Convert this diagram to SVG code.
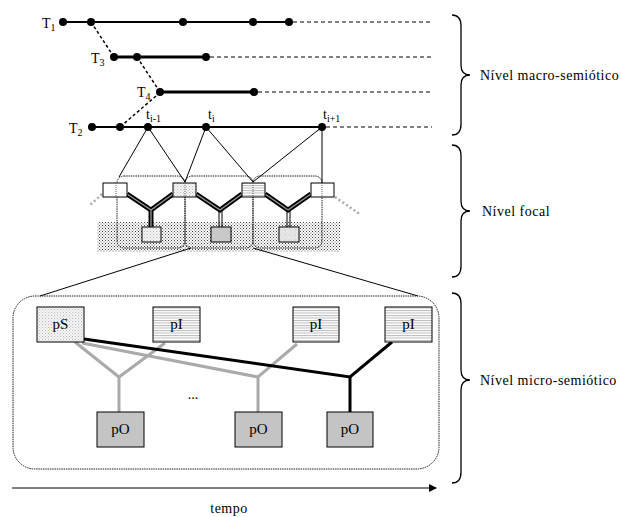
<svg xmlns="http://www.w3.org/2000/svg" width="621" height="517" viewBox="0 0 621 517">
  <defs>
    <style>
      .txt { font-family: "Liberation Serif", "Times New Roman", serif; fill: #000; }
      .lbl { font-size: 14px; letter-spacing: 0.5px; }
      .tl { font-size: 14px; }
      .nl { font-size: 15px; }
      .sub { font-size: 10px; }
      .solid { stroke: #000; stroke-width: 2; fill: none; }
      .thick { stroke: #000; stroke-width: 3; fill: none; }
      .dash { stroke: #000; stroke-width: 1; stroke-dasharray: 4 3; fill: none; }
      .ddash { stroke: #000; stroke-width: 1.5; stroke-dasharray: 3 2.5; fill: none; }
      .dot { fill: #000; }
      .thin { stroke: #000; stroke-width: 1; fill: none; }
      .box { stroke: #000; stroke-width: 1; }
      .frame { fill: none; stroke: #222; stroke-width: 1; stroke-dasharray: 1.5 0.8; }
      .pipeo { stroke: #000; stroke-width: 5; fill: none; stroke-linejoin: miter; }
      .pipei { stroke: #999; stroke-width: 1.3; fill: none; stroke-linejoin: miter; }
      .grayc { stroke: #aaa; stroke-width: 3; fill: none; }
      .blackc { stroke: #000; stroke-width: 3; fill: none; }
      .fade { stroke: #aaa; stroke-width: 2.5; stroke-dasharray: 2 2.5; fill: none; }
      .brace { stroke: #000; stroke-width: 1.3; fill: none; }
    </style>
    <pattern id="speck" width="3" height="3" patternUnits="userSpaceOnUse">
      <rect width="3" height="3" fill="#fff"/>
      <rect x="0" y="0" width="1" height="1" fill="#222"/>
      <rect x="1.5" y="1.5" width="1" height="1" fill="#444"/>
    </pattern>
    <pattern id="lightspeck" width="3" height="3" patternUnits="userSpaceOnUse">
      <rect width="3" height="3" fill="#f4f4f4"/>
      <rect x="0" y="0" width="1" height="1" fill="#bbb"/>
      <rect x="1.5" y="1.5" width="1" height="1" fill="#ccc"/>
    </pattern>
    <pattern id="hlines" width="4" height="2.5" patternUnits="userSpaceOnUse">
      <rect width="4" height="2.5" fill="#fff"/>
      <rect x="0" y="0" width="4" height="1" fill="#bbb"/>
    </pattern>
    <pattern id="rings" width="5" height="5" patternUnits="userSpaceOnUse">
      <rect width="5" height="5" fill="#ddd"/>
      <circle cx="2.5" cy="2.5" r="1.6" fill="none" stroke="#f4f4f4" stroke-width="0.8"/>
    </pattern>
    <marker id="arrow" markerWidth="8" markerHeight="8" refX="7" refY="4" orient="auto" markerUnits="userSpaceOnUse">
      <path d="M0,0 L8,4 L0,8 Z" fill="#000"/>
    </marker>
  </defs>

  <rect width="621" height="517" fill="#fff"/>

  <!-- macro-semiotic timelines -->
  <g id="timeline-T1">
    <line class="solid" x1="63" y1="22" x2="289" y2="22"/>
    <line class="dash" x1="293" y1="22" x2="432" y2="22"/>
    <circle class="dot" cx="63" cy="22" r="4"/>
    <circle class="dot" cx="91" cy="22" r="4"/>
    <circle class="dot" cx="183" cy="22" r="4"/>
    <circle class="dot" cx="253" cy="22" r="4"/>
    <circle class="dot" cx="289" cy="22" r="4"/>
    <text class="txt tl" x="42" y="28">T<tspan class="sub" dy="3">1</tspan></text>
  </g>
  <g id="timeline-T3">
    <line class="thick" x1="114" y1="57" x2="206" y2="57"/>
    <line class="dash" x1="210" y1="57" x2="432" y2="57"/>
    <circle class="dot" cx="114" cy="57" r="4"/>
    <circle class="dot" cx="137" cy="57" r="4"/>
    <circle class="dot" cx="206" cy="57" r="4"/>
    <text class="txt tl" x="91" y="63">T<tspan class="sub" dy="3">3</tspan></text>
  </g>
  <g id="timeline-T4">
    <line class="thick" x1="160" y1="92" x2="254" y2="92"/>
    <line class="dash" x1="258" y1="92" x2="432" y2="92"/>
    <circle class="dot" cx="160" cy="92" r="4"/>
    <circle class="dot" cx="254" cy="92" r="4"/>
    <text class="txt tl" x="137" y="97">T<tspan class="sub" dy="3">4</tspan></text>
  </g>
  <g id="timeline-T2">
    <line class="solid" x1="92" y1="127" x2="322" y2="127"/>
    <line class="dash" x1="326" y1="127" x2="432" y2="127"/>
    <circle class="dot" cx="92" cy="127" r="4"/>
    <circle class="dot" cx="120" cy="127" r="4"/>
    <circle class="dot" cx="148" cy="127" r="4"/>
    <circle class="dot" cx="206" cy="127" r="4"/>
    <circle class="dot" cx="322" cy="127" r="4"/>
    <text class="txt tl" x="69" y="133">T<tspan class="sub" dy="3">2</tspan></text>
    <text class="txt tl" x="146" y="119">t<tspan class="sub" dy="3">i-1</tspan></text>
    <text class="txt tl" x="208" y="119">t<tspan class="sub" dy="3">i</tspan></text>
    <text class="txt tl" x="323" y="119">t<tspan class="sub" dy="3">i+1</tspan></text>
  </g>

  <!-- focal level -->
  <g id="focal-band">
    <rect x="97" y="222" width="243" height="30" fill="url(#speck)" opacity="0.85"/>
    <rect class="frame" x="117" y="176" width="68" height="72" rx="7"/>
    <rect class="frame" x="185" y="176" width="68" height="72" rx="7"/>
    <rect class="frame" x="253" y="176" width="69" height="72" rx="7"/>
  </g>

  <g id="connectors">
    <!-- timeline branchings -->
    <line class="ddash" x1="91" y1="22" x2="114" y2="57"/>
    <line class="ddash" x1="137" y1="57" x2="160" y2="92"/>
    <line class="ddash" x1="156" y1="96" x2="120" y2="127"/>
    <!-- instants to focal modules -->
    <polyline class="thin" points="119,177 148,127 185,182"/>
    <polyline class="thin" points="185,182 206,127 253,182"/>
    <polyline class="thin" points="253,182 322,127 322,183"/>
    <!-- focal pipes -->
    <polyline class="pipeo" points="127,194 151,210 173,194"/>
    <polyline class="pipei" points="127,194 151,210 173,194"/>
    <line class="pipeo" x1="151" y1="210" x2="151" y2="227"/>
    <line class="pipei" x1="151" y1="210" x2="151" y2="227"/>
    <polyline class="pipeo" points="196,194 220,210 242,194"/>
    <polyline class="pipei" points="196,194 220,210 242,194"/>
    <line class="thin" x1="219" y1="210" x2="219" y2="227"/>
    <line class="thin" x1="222" y1="210" x2="222" y2="227"/>
    <polyline class="pipeo" points="265,194 288,210 311,194"/>
    <polyline class="pipei" points="265,194 288,210 311,194"/>
    <line class="thin" x1="287" y1="210" x2="287" y2="227"/>
    <line class="thin" x1="290" y1="210" x2="290" y2="227"/>
    <line class="fade" x1="102" y1="194" x2="89" y2="206"/>
    <line class="fade" x1="335" y1="197" x2="361" y2="215"/>
    <!-- zoom lines into micro level -->
    <line class="thin" x1="191" y1="248" x2="40" y2="296"/>
    <line class="thin" x1="253" y1="248" x2="418" y2="296"/>
    <!-- micro level links -->
    <polyline class="grayc" points="75,342 119,377 165,343"/>
    <line class="grayc" x1="119" y1="377" x2="119" y2="412"/>
    <polyline class="grayc" points="82,343 258,377 297,344"/>
    <line class="grayc" x1="258" y1="377" x2="258" y2="412"/>
    <polyline class="blackc" points="84,339 350,377 392,342"/>
    <line class="blackc" x1="350" y1="377" x2="350" y2="412"/>
    <!-- time axis -->
    <line stroke="#000" stroke-width="1" x1="12" y1="488" x2="436" y2="488" marker-end="url(#arrow)"/>
  </g>

  <g id="focal-modules">
    <rect class="box" x="103" y="183" width="24" height="14" fill="#fff"/>
    <rect class="box" x="173" y="183" width="23" height="14" fill="url(#lightspeck)"/>
    <rect class="box" x="242" y="183" width="23" height="14" fill="url(#hlines)"/>
    <rect class="box" x="311" y="183" width="23" height="14" fill="#fff"/>
    <rect class="box" x="142" y="227" width="19" height="15" fill="url(#lightspeck)"/>
    <rect class="box" x="211" y="227" width="20" height="15" fill="#c8c8c8"/>
    <rect class="box" x="279" y="227" width="20" height="15" fill="url(#rings)"/>
    <!-- frame sides crossing the modules -->
    <line stroke="#666" stroke-width="1" stroke-dasharray="1 1" x1="116" y1="183" x2="116" y2="197"/>
    <line stroke="#666" stroke-width="1" stroke-dasharray="1 1" x1="185" y1="183" x2="185" y2="197"/>
    <line stroke="#666" stroke-width="1" stroke-dasharray="1 1" x1="253" y1="183" x2="253" y2="197"/>
    <line stroke="#666" stroke-width="1" stroke-dasharray="1 1" x1="322" y1="183" x2="322" y2="197"/>
  </g>

  <!-- micro-semiotic level -->
  <g id="micro-frame">
    <rect class="frame" x="13" y="296" width="426" height="173" rx="22"/>
  </g>
  <g id="node-pS">
    <rect class="box" x="37" y="307" width="47" height="35" fill="url(#lightspeck)"/>
    <text class="txt nl" x="60.5" y="329" text-anchor="middle">pS</text>
  </g>
  <g id="node-pI-1">
    <rect class="box" x="153" y="307" width="47" height="35" fill="url(#hlines)"/>
    <text class="txt nl" x="176.5" y="329" text-anchor="middle">pI</text>
  </g>
  <g id="node-pI-2">
    <rect class="box" x="293" y="307" width="46" height="35" fill="url(#hlines)"/>
    <text class="txt nl" x="316" y="329" text-anchor="middle">pI</text>
  </g>
  <g id="node-pI-3">
    <rect class="box" x="385" y="307" width="47" height="35" fill="url(#hlines)"/>
    <text class="txt nl" x="408.5" y="329" text-anchor="middle">pI</text>
  </g>
  <g id="node-pO-1">
    <rect class="box" x="97" y="412" width="47" height="35" fill="#c4c4c4"/>
    <text class="txt nl" x="120.5" y="434" text-anchor="middle">pO</text>
  </g>
  <g id="node-pO-2">
    <rect class="box" x="235" y="412" width="47" height="35" fill="#c4c4c4"/>
    <text class="txt nl" x="258.5" y="434" text-anchor="middle">pO</text>
  </g>
  <g id="node-pO-3">
    <rect class="box" x="327" y="412" width="46" height="35" fill="#c4c4c4"/>
    <text class="txt nl" x="350" y="434" text-anchor="middle">pO</text>
  </g>
  <text class="txt tl" x="193" y="399" text-anchor="middle">...</text>

  <!-- level braces -->
  <g id="brace-macro">
    <path class="brace" d="M452,15 Q461,15 461,26 L461,65 Q461,75 470,75 Q461,75 461,85 L461,124 Q461,135 452,135"/>
    <text class="txt lbl" x="480" y="80">Nível macro-semiótico</text>
  </g>
  <g id="brace-focal">
    <path class="brace" d="M452,145 Q461,145 461,156 L461,201 Q461,211 470,211 Q461,211 461,221 L461,266 Q461,277 452,277"/>
    <text class="txt lbl" x="482" y="216">Nível focal</text>
  </g>
  <g id="brace-micro">
    <path class="brace" d="M452,293 Q461,293 461,304 L461,370 Q461,380 470,380 Q461,380 461,390 L461,472 Q461,483 452,483"/>
    <text class="txt lbl" x="480" y="385">Nível micro-semiótico</text>
  </g>

  <text class="txt lbl" x="229" y="513" text-anchor="middle">tempo</text>
</svg>
